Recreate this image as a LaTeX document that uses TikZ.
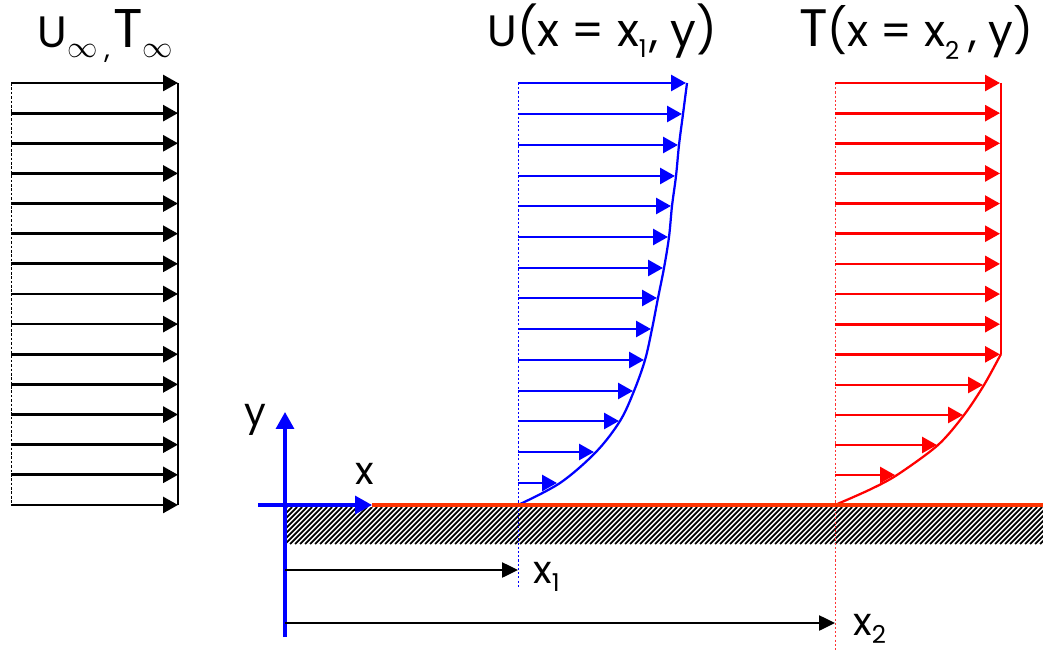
\documentclass[tikz,border=0pt]{standalone}
\usepackage{fontspec}
\setmainfont{Poppins}
\usetikzlibrary{arrows.meta}
\definecolor{plate}{RGB}{255,51,0}
\definecolor{bl}{RGB}{0,0,255}
\definecolor{rd}{RGB}{255,0,0}
\newcommand{\bigtxt}{\fontsize{26}{29}\selectfont}
\newcommand{\lbltxt}{\fontsize{22}{24}\selectfont}
\newcommand{\subtxt}[2]{\raisebox{#1}{\fontsize{14}{16}\selectfont #2}}
\tikzset{
  vec/.style={line width=0.055cm, -{Triangle[length=0.3cm,width=0.32cm]}},
  axis/.style={line width=0.065cm, bl, -{Triangle[length=0.34cm,width=0.36cm]}},
  dim/.style={line width=0.05cm, black, -{Triangle[length=0.32cm,width=0.3cm]}},
  lbl/.style={inner sep=0pt, font=\lbltxt},
  ttl/.style={inner sep=0pt, anchor=base west},
}
\begin{document}
\begin{tikzpicture}[x=0.02cm,y=-0.02cm]
\useasboundingbox (0,0) rectangle (1043,651);

% hatched wall
\begin{scope}
  \clip (285,507) rectangle (1043,544);
  \foreach \i in {250,255,...,1045} {
    \draw[line width=1pt] (\i,544) -- ++(37,-37);
  }
\end{scope}

% free stream profile
\draw[line width=0.5pt, dash pattern=on 1.5pt off 1pt] (11,83) -- (11,505);
\draw[line width=0.045cm] (178,83) -- (178,505);
\foreach \k in {0,...,14} {
  \draw[vec] (11,83+30.14*\k) -- (178,83+30.14*\k);
}

% velocity profile at x1
\draw[bl, line width=0.5pt, dash pattern=on 1.2pt off 1.2pt] (518,83) -- (518,587);
\foreach \y/\t in {83/686,114/682,145/678,176/675,206/671,237/668,268/663,298/657,329/651,360/644,391/633,421/619,452/594,483/557} {
  \draw[vec, bl] (518,\y) -- (\t,\y);
}
\draw[bl, line width=0.045cm] plot[smooth, tension=0.55] coordinates {(687,83) (683,114) (679,145) (676,176) (672,206) (669,237) (664,268) (658,298) (652,329) (645,360) (634,391) (620,421) (596,452) (560,483) (518,505)};

% temperature profile at x2
\draw[rd!80, line width=0.5pt, dash pattern=on 1.2pt off 1.2pt] (835,83) -- (835,651);
\foreach \k in {0,...,9} {
  \draw[vec, rd] (835,83+30.15*\k) -- (1000,83+30.15*\k);
}
\foreach \y/\t in {385/983,415/963,445/937,475/895} {
  \draw[vec, rd] (835,\y) -- (\t,\y);
}
\draw[rd, line width=0.045cm] (1001,83) -- (1001,354);
\draw[rd, line width=0.045cm] plot[smooth, tension=0.5] coordinates {(1001,354) (984,385) (964,415) (938,445) (897,475) (869,490) (835,505)};

% plate surface
\coordinate (xtip) at (372,505);
\coordinate (plateend) at (1043,505);
\draw[plate, line width=0.07cm] (xtip) -- (plateend);

% axes
\coordinate (o) at (285,505);
\coordinate (ybot) at (285,637);
\coordinate (ytop) at (285,412);
\coordinate (xleft) at (258,505);
\draw[axis] (ybot) -- (ytop);
\draw[axis] (xleft) -- (xtip);
\node[lbl] (ylbl) at (255,420) {y};
\node[lbl] (xlbl) at (365,474) {x};

% distances
\coordinate (d1s) at (285,570);
\coordinate (d1e) at (518,570);
\coordinate (d2s) at (285,623);
\coordinate (d2e) at (835,623);
\draw[dim] (d1s) -- (d1e);
\draw[dim] (d2s) -- (d2e);
\node[ttl, font=\lbltxt] (x1lbl) at (533,583) {x\subtxt{-5pt}{1}};
\node[ttl, font=\lbltxt] (x2lbl) at (853,635) {x\subtxt{-5pt}{2}};

% titles
\node[ttl] (t0) at (37,48) {\fontsize{25}{25}\selectfont U\raisebox{-5.5pt}{\fontsize{16}{16}\selectfont$\infty$}\kern4pt\raisebox{-6pt}{\fontsize{16}{16}\selectfont ,}\kern2pt{\fontsize{31}{31}\selectfont T}\raisebox{-5.5pt}{\fontsize{16}{16}\selectfont$\infty$}};
\node[ttl] (t1) at (487,47) {\bigtxt{\fontsize{25}{25}\selectfont U}(x = x\subtxt{-6pt}{1}\kern1.5pt, y)};
\node[ttl] (t2) at (799,47) {\fontsize{25}{28}\selectfont{\fontsize{30}{30}\selectfont T}(x = x\subtxt{-7pt}{2}\kern5pt, y)};
\end{tikzpicture}
\end{document}
